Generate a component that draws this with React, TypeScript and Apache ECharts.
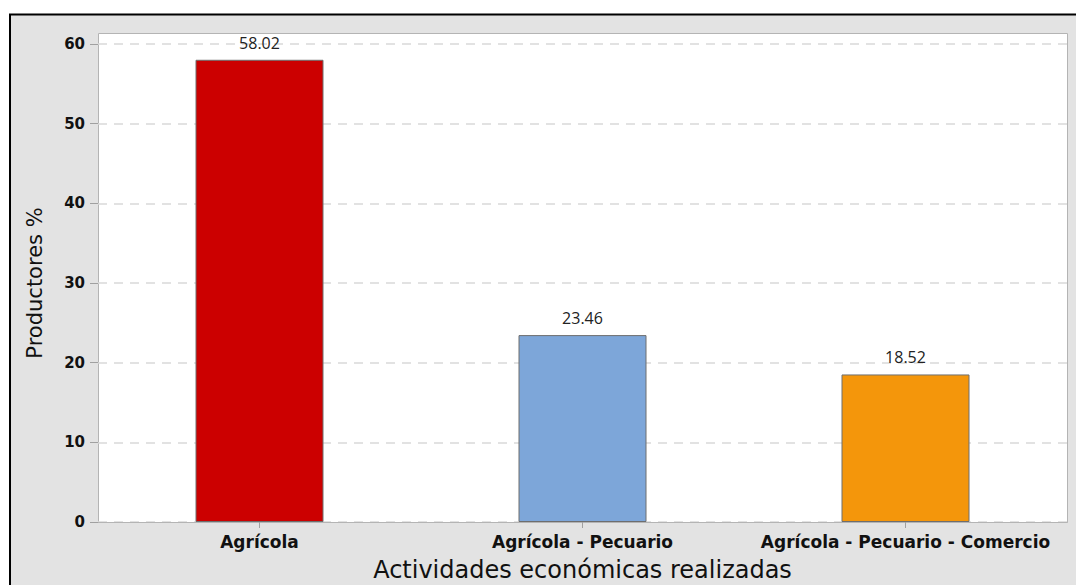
import React, { useEffect, useRef } from "react";
import * as echarts from "echarts";

const categories = ["Agrícola", "Agrícola - Pecuario", "Agrícola - Pecuario - Comercio"];
const values = [58.02, 23.46, 18.52];
const barColors = ["#cc0000", "#7da6d9", "#f4960b"];
const yTicks = [0, 10, 20, 30, 40, 50, 60];
const xTitle = "Actividades económicas realizadas";
const yTitle = "Productores %";

const FONT = "'Open Sans', 'Noto Sans', sans-serif";
const WIDE = "'DejaVu Sans', 'Noto Sans', sans-serif";

export default function App() {
  const ref = useRef<HTMLDivElement>(null);
  useEffect(() => {
    if (!ref.current) return;
    const chart = echarts.init(ref.current, null, { renderer: "svg" });
    chart.setOption({
      animation: false,
      backgroundColor: "#ffffff",
      textStyle: { fontFamily: FONT },
      graphic: [
        {
          type: "rect",
          z: -10,
          silent: true,
          shape: { x: 10, y: 14.5, width: 1100, height: 620 },
          style: { fill: "#e3e3e3", stroke: "#000000", lineWidth: 2 },
        },
        {
          type: "rect",
          z: -5,
          silent: true,
          shape: { x: 98.5, y: 33.5, width: 969, height: 489 },
          style: { fill: "#ffffff", stroke: "#b4b4b4", lineWidth: 1 },
        },
      ],
      grid: {
        left: 98,
        right: 9,
        top: 44,
        bottom: 63,
        containLabel: false,
        outerBoundsMode: "none",
      },
      xAxis: {
        type: "category",
        data: categories,
        axisLine: { show: true, lineStyle: { color: "#b4b4b4", width: 1 } },
        axisTick: { show: true, alignWithLabel: true, length: 6, lineStyle: { color: "#a0a0a0" } },
        axisLabel: {
          interval: 0,
          hideOverlap: false,
          color: "#111111",
          fontSize: 17,
          fontWeight: "bold",
          fontFamily: WIDE,
          margin: 11,
        },
        name: xTitle,
        nameLocation: "middle",
        nameGap: 36,
        nameTextStyle: { fontSize: 24, fontWeight: "normal", color: "#111111", fontFamily: WIDE },
      },
      yAxis: {
        type: "value",
        min: 0,
        max: 60,
        interval: 10,
        axisLine: { show: false },
        axisTick: { show: true, length: 8, lineStyle: { color: "#a0a0a0" } },
        axisLabel: {
          color: "#111111",
          fontSize: 15,
          fontWeight: "bold",
          fontFamily: WIDE,
          margin: 13,
          formatter: (v: number) => (yTicks.includes(v) ? String(v) : ""),
        },
        splitLine: {
          show: true,
          lineStyle: { color: "#d9d9d9", width: 1.5, type: [9, 7] },
        },
        name: yTitle,
        nameLocation: "middle",
        nameRotate: 90,
        nameGap: 53,
        nameTextStyle: { fontSize: 21, fontWeight: "normal", color: "#111111", fontFamily: WIDE },
      },
      series: [
        {
          type: "bar",
          barWidth: 128,
          data: values.map((v, i) => ({
            value: v,
            itemStyle: { color: barColors[i], borderColor: "#6e6e6e", borderWidth: 1 },
          })),
          label: {
            show: true,
            position: "top",
            distance: 9,
            fontSize: 16,
            color: "#222222",
            fontFamily: FONT,
            formatter: (p: any) => p.value.toFixed(2),
          },
        },
      ],
    });
    return () => chart.dispose();
  }, []);
  return (
    <div
      ref={ref}
      style={{ position: "absolute", left: 0, top: 0, width: 1076, height: 585 }}
    />
  );
}
